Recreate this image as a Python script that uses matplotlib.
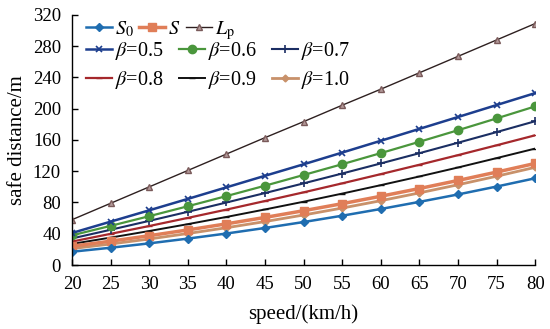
import numpy as np
import matplotlib
matplotlib.use('Agg')
import matplotlib.pyplot as plt

plt.rcParams['font.family'] = ['Liberation Serif', 'DejaVu Serif']
plt.rcParams['mathtext.fontset'] = 'stix'

# speed (km/h)
speed = [20, 25, 30, 35, 40, 45, 50, 55, 60, 65, 70, 75, 80]

# safe distance (m)
s0 = [17, 22.1, 27.7, 33.8, 40.3, 47.4, 55, 63.1, 71.7, 80.8, 90.3, 100.4, 111]
s = [24, 30.5, 37.5, 44.9, 52.7, 60.9, 69.5, 78.5, 88, 97.9, 108.2, 118.9, 130]
lp = [58, 79, 100, 121, 142, 163, 183.5, 204.5, 225, 246, 267, 288, 309]
b05 = [41, 55.5, 70, 84.6, 99.4, 114.2, 128.9, 143.9, 159, 174.2, 189.4, 204.7, 220]
b06 = [38, 50.1, 62.5, 75.2, 88.2, 101.5, 115.2, 129, 143.2, 157.7, 172.5, 187.6, 203]
b07 = [34, 45.1, 56.5, 68.1, 80, 92.1, 104.5, 117.1, 130, 143.1, 156.5, 170.1, 184]
b08 = [30, 39.9, 49.9, 60.3, 70.9, 81.9, 93, 104.5, 116.3, 128.3, 140.6, 153.2, 166]
b09 = [27, 35.1, 43.5, 52.3, 61.5, 71.1, 81, 91.4, 102.2, 113.3, 124.8, 136.8, 149]
b10 = [21, 26.9, 33.3, 40.3, 47.7, 55.6, 64, 72.9, 82.3, 92.3, 102.7, 113.6, 125]

fig = plt.figure(figsize=(5.5, 3.29), dpi=100)
ax = fig.add_axes([0.131, 0.1945, 0.842, 0.76])

h_b08, = ax.plot(speed, b08, color='#A5282C', lw=1.6, marker='_', ms=4)
h_b09, = ax.plot(speed, b09, color='#111111', lw=1.4, marker='_', ms=4)
h_b10, = ax.plot(speed, b10, color='#C8916A', lw=2.0, marker='D', ms=3.5)
h_s, = ax.plot(speed, s, color='#E07E58', lw=2.5, marker='s', ms=6)
h_s0, = ax.plot(speed, s0, color='#1F6DB0', lw=1.8, marker='D', ms=4)
h_b07, = ax.plot(speed, b07, color='#1B2E63', lw=1.5, marker='+', ms=6, mew=1.2)
h_b06, = ax.plot(speed, b06, color='#4A963C', lw=1.6, marker='o', ms=6)
h_b05, = ax.plot(speed, b05, color='#1D3E8E', lw=1.8, marker='x', ms=5, mew=1.2)
h_lp, = ax.plot(speed, lp, color='#2E2020', lw=1.0, marker='^', ms=5,
                mfc='#B39A9A', mec='#7A5A5A')

ax.set_xlim(20, 80)
ax.set_ylim(0, 320)
ax.set_xticks(speed)
ax.set_yticks(np.arange(0, 321, 40))
ax.tick_params(direction='in', labelsize=13.5, length=4, width=1, pad=8)
for sp in ['top', 'right']:
    ax.spines[sp].set_visible(False)
for sp in ['left', 'bottom']:
    ax.spines[sp].set_linewidth(1.0)

ax.set_xlabel('speed/(km/h)', fontsize=15, labelpad=8)
ax.set_ylabel('safe distance/m', fontsize=15, labelpad=4)

legkw = dict(loc='upper left', frameon=False, fontsize=14.5, borderpad=0,
             borderaxespad=0, handlelength=1.3, handletextpad=0.15,
             bbox_transform=fig.transFigure)
leg1 = ax.legend([h_s0, h_s, h_lp], [r'$S_0$', r'$S$', r'$L_\mathrm{p}$'], ncol=3,
                 bbox_to_anchor=(86 / 550, 1 - 19 / 329), columnspacing=0.25, **legkw)
ax.add_artist(leg1)
ax.legend([h_b05, h_b08, h_b06, h_b09, h_b07, h_b10],
          [r'$\beta$=0.5', r'$\beta$=0.8', r'$\beta$=0.6', r'$\beta$=0.9', r'$\beta$=0.7', r'$\beta$=1.0'],
          ncol=3, bbox_to_anchor=(86 / 550, 1 - 40 / 329), columnspacing=0.75,
          labelspacing=0.35, **legkw)

fig.savefig('out.png', dpi=100)
